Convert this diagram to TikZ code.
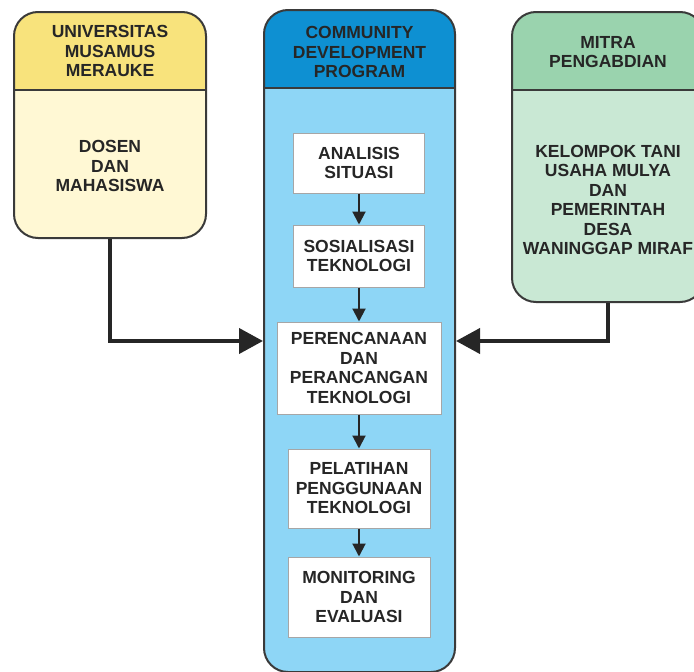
\documentclass[tikz,border=0pt]{standalone}
\usepackage{fontspec}
\setmainfont{Liberation Sans}
\usetikzlibrary{arrows.meta}

\definecolor{edge}{HTML}{3A3A3A}
\definecolor{ink}{HTML}{262626}
\definecolor{univhead}{HTML}{F8E37C}
\definecolor{univbody}{HTML}{FFF8D4}
\definecolor{cdphead}{HTML}{0E90D2}
\definecolor{cdpbody}{HTML}{8ED6F6}
\definecolor{mitrahead}{HTML}{9AD3AE}
\definecolor{mitrabody}{HTML}{C9E8D4}

\begin{document}
\begin{tikzpicture}[x=1pt, y=-1pt,
    every node/.style={font=\fontsize{17.5}{19.5}\selectfont\bfseries, text=ink, align=center},
    panel/.style 2 args={draw=edge, line width=2pt, rounded corners=24pt, fill=#2,
        path picture={
            \fill[#1, sharp corners] (path picture bounding box.north west) rectangle
                ([yshift=-78pt]path picture bounding box.north east);
            \draw[edge, line width=2pt, sharp corners] ([yshift=-78pt]path picture bounding box.north west) --
                ([yshift=-78pt]path picture bounding box.north east);
        }},
    stage/.style={draw=gray!70, line width=1pt, fill=white, inner sep=0pt},
    flow/.style={draw=ink, line width=2pt, -{Triangle[length=13pt, width=13pt]}},
    feed/.style={draw=ink, line width=4pt, -{Triangle[length=24pt, width=25pt]}}]
        \useasboundingbox (0,0) rectangle (694,672);

        % outer panels
        \node[panel={univhead}{univbody}, minimum width=192pt, minimum height=226pt] (univ) at (110,125) {};
        \node[panel={cdphead}{cdpbody}, minimum width=191pt, minimum height=662pt] (cdp) at (359.5,341) {};
        \node[panel={mitrahead}{mitrabody}, minimum width=192pt, minimum height=290pt] (mitra) at (608,157) {};

        % panel texts
        \node (univtitle) at (110,51) {UNIVERSITAS\\MUSAMUS\\MERAUKE};
        \node (univtext) at (110,166) {DOSEN\\DAN\\MAHASISWA};
        \node (cdptitle) at (359.5,52) {COMMUNITY\\DEVELOPMENT\\PROGRAM};
        \node (mitratitle) at (608,52) {MITRA\\PENGABDIAN};
        \node (mitratext) at (608,200) {KELOMPOK TANI\\USAHA MULYA\\DAN\\PEMERINTAH\\DESA\\WANINGGAP MIRAF};

        % program stages
        \node[stage, minimum width=131pt, minimum height=60pt] (analisis) at (359,163) {ANALISIS\\SITUASI};
        \node[stage, minimum width=131pt, minimum height=62pt] (sosialisasi) at (359,256) {SOSIALISASI\\TEKNOLOGI};
        \node[stage, minimum width=164pt, minimum height=92pt] (perencanaan) at (359,368) {PERENCANAAN\\DAN\\PERANCANGAN\\TEKNOLOGI};
        \node[stage, minimum width=142pt, minimum height=79pt] (pelatihan) at (359,488.5) {PELATIHAN\\PENGGUNAAN\\TEKNOLOGI};
        \node[stage, minimum width=142pt, minimum height=80pt] (monitoring) at (359,597) {MONITORING\\DAN\\EVALUASI};

        \draw[flow] (analisis) -- (sosialisasi);
        \draw[flow] (sosialisasi) -- (perencanaan);
        \draw[flow] (perencanaan) -- (pelatihan);
        \draw[flow] (pelatihan) -- (monitoring);

        % inputs into the program
        \draw[feed] (univ.south) |- (cdp.west);
        \draw[feed] (mitra.south) |- (cdp.east);

    \end{tikzpicture}
\end{document}
